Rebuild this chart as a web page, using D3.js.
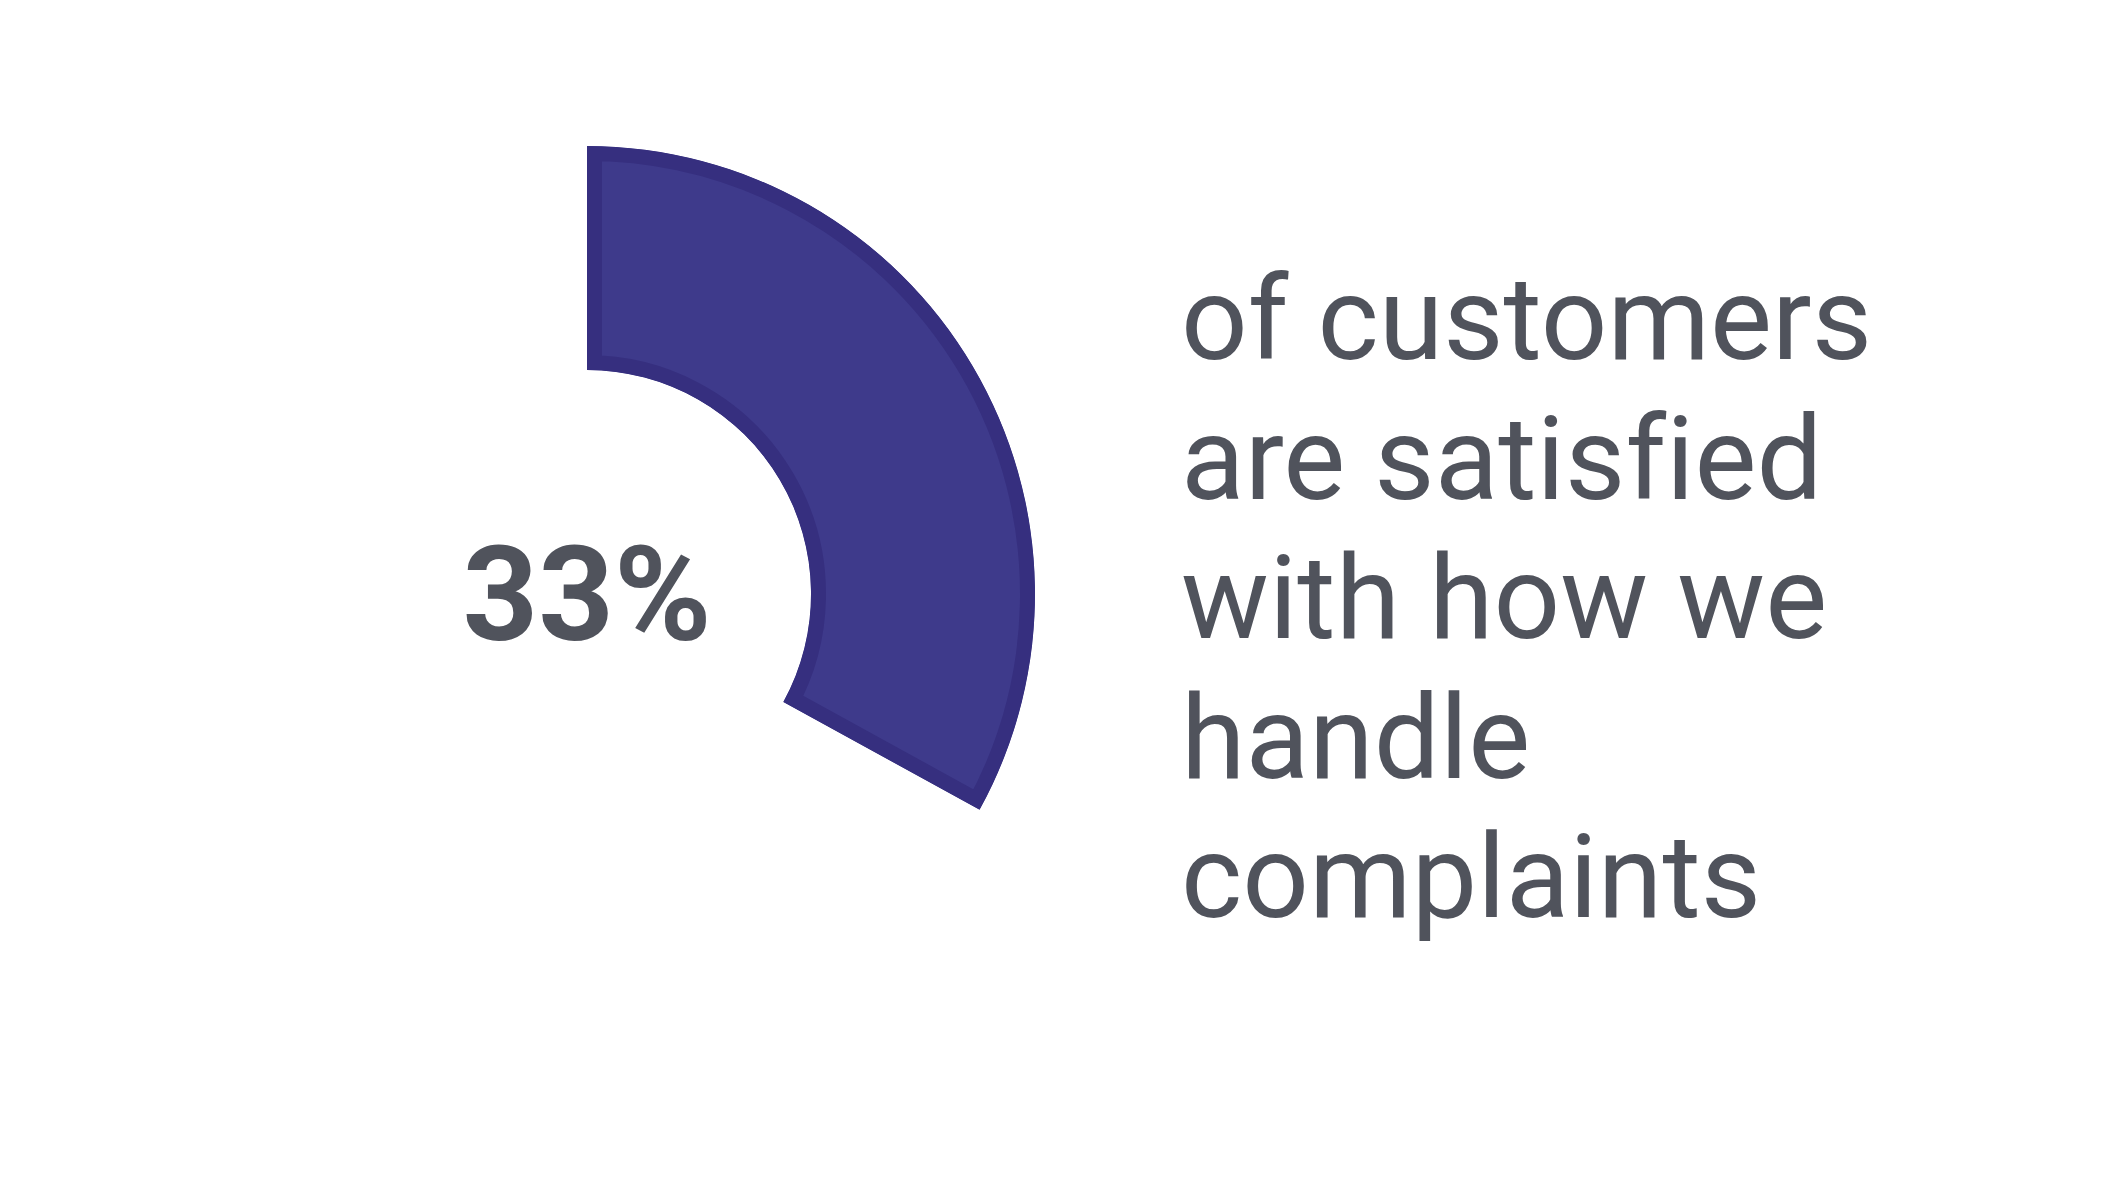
<!DOCTYPE html>
<html>
<head>
<meta charset="utf-8">
<script src="https://cdn.jsdelivr.net/npm/d3@7"></script>
<style>
  html, body { margin: 0; padding: 0; background: #ffffff; }
  svg { display: block; }
  text { font-variant-ligatures: none; font-feature-settings: "liga" 0; }
</style>
</head>
<body>
<svg id="chart" width="2103" height="1200"></svg>
<script>
// ---- data ----
const percentValue = [33];
const percentLabel = ["33%"];
const descriptionLines = ["of customers", "are satisfied", "with how we", "handle", "complaints"];

// ---- layout ----
const W = 2103, H = 1200;
const cx = 587, cy = 594;
const outerR = 448, innerR = 224;
const bandW = 15; // inner stroke band

const svg = d3.select("#chart");
const defs = svg.append("defs");

const angle = d3.scaleLinear().domain([0, 100]).range([0, 2 * Math.PI]);

const arcGen = d3.arc()
  .innerRadius(innerR)
  .outerRadius(outerR)
  .startAngle(0);

const g = svg.append("g").attr("transform", `translate(${cx},${cy})`);

// clip path so the stroke is drawn inside the shape only
defs.selectAll("clipPath")
  .data(percentValue)
  .join("clipPath")
  .attr("id", (d, i) => "arcClip" + i)
  .append("path")
  .attr("d", d => arcGen({ endAngle: angle(d) }));

g.selectAll("path.val")
  .data(percentValue)
  .join("path")
  .attr("class", "val")
  .attr("d", d => arcGen({ endAngle: angle(d) }))
  .attr("clip-path", (d, i) => `url(#arcClip${i})`)
  .attr("fill", "#3e3a8b")
  .attr("stroke", "#362f7f")
  .attr("stroke-width", bandW * 2)
  .attr("stroke-linejoin", "miter");

svg.selectAll("text.pct")
  .data(percentLabel)
  .join("text")
  .attr("class", "pct")
  .attr("x", 587)
  .attr("y", 640)
  .attr("text-anchor", "middle")
  .attr("font-family", "Roboto, 'Noto Sans', sans-serif")
  .attr("font-weight", 700)
  .attr("font-size", 132)
  .attr("fill", "#50535c")
  .text(d => d);

// description text
const textX = 1181, firstBaseline = 359, lineStep = 139.5;
const tg = svg.append("g");

tg.selectAll("text.desc")
  .data(descriptionLines)
  .join("text")
  .attr("class", "desc")
  .attr("x", textX)
  .attr("y", (d, i) => firstBaseline + i * lineStep)
  .attr("font-family", "Roboto, 'Noto Sans', sans-serif")
  .attr("font-weight", 400)
  .attr("font-size", 117)
  .attr("fill", "#50535c")
  .text(d => d);
</script>
</body>
</html>
